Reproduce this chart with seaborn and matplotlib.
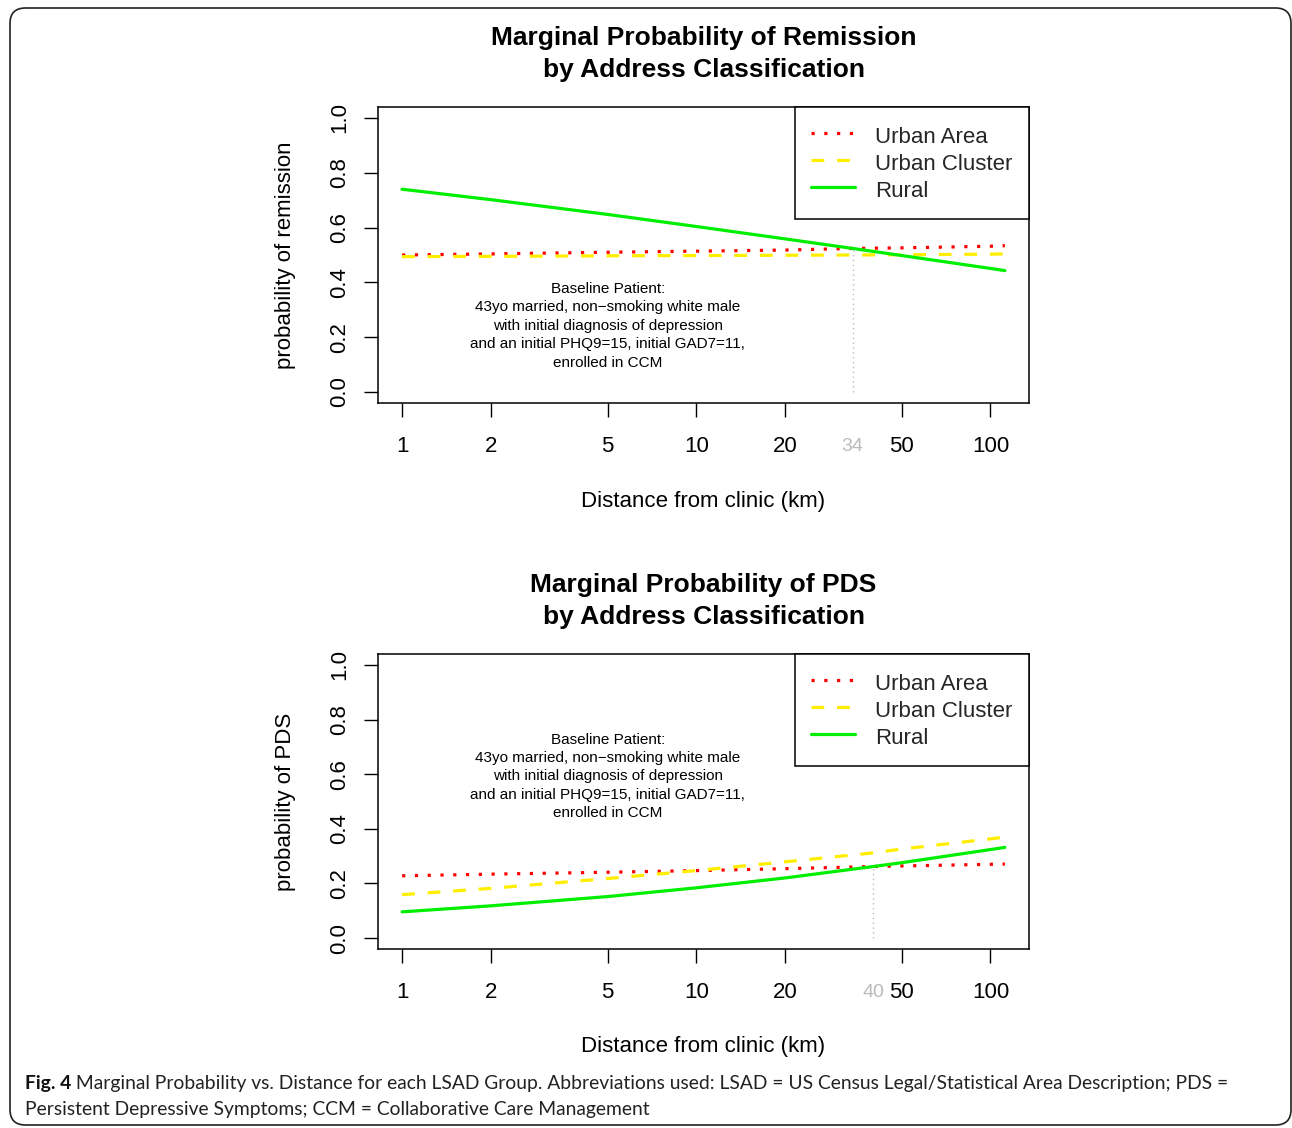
import numpy as np
import pandas as pd
import matplotlib
matplotlib.use("Agg")
import matplotlib.pyplot as plt
import seaborn as sns
from matplotlib import font_manager
from matplotlib.patches import FancyBboxPatch

# ---------------- data ----------------
series_names = ["Urban Area", "Urban Cluster", "Rural"]

dist_rem = [1, 2, 5, 10, 20, 34, 50, 100, 112]
urban_area_rem = [0.500, 0.504, 0.510, 0.514, 0.518, 0.524, 0.526, 0.532, 0.534]
urban_cluster_rem = [0.494, 0.495, 0.497, 0.498, 0.499, 0.500, 0.501, 0.503, 0.504]
rural_rem = [0.740, 0.702, 0.648, 0.604, 0.559, 0.524, 0.498, 0.451, 0.443]
cross_rem_x = 34
cross_rem_y = 0.524

dist_pds = [1, 2, 5, 10, 20, 40, 50, 100, 112]
urban_area_pds = [0.228, 0.234, 0.241, 0.247, 0.254, 0.262, 0.264, 0.270, 0.271]
urban_cluster_pds = [0.159, 0.182, 0.218, 0.247, 0.279, 0.312, 0.326, 0.363, 0.370]
rural_pds = [0.096, 0.118, 0.152, 0.184, 0.220, 0.262, 0.276, 0.324, 0.332]
cross_pds_x = 40
cross_pds_y = 0.262

x_ticks = [1, 2, 5, 10, 20, 50, 100]
x_tick_labels = ["1", "2", "5", "10", "20", "50", "100"]
y_ticks = [0.0, 0.2, 0.4, 0.6, 0.8, 1.0]
y_tick_labels = ["0.0", "0.2", "0.4", "0.6", "0.8", "1.0"]

titles = ["Marginal Probability of Remission\nby Address Classification",
          "Marginal Probability of PDS\nby Address Classification"]
ylabels = ["probability of remission", "probability of PDS"]
xlabel = "Distance from clinic (km)"
note = ("Baseline Patient:\n43yo married, non\u2212smoking white male\n"
        "with initial diagnosis of depression\n"
        "and an initial PHQ9=15, initial GAD7=11,\nenrolled in CCM")
note_pos = [(5, 0.242), (5, 0.592)]
caption_bold = "Fig. 4"
caption_line1 = (" Marginal Probability vs. Distance for each LSAD Group. Abbreviations used: "
                 "LSAD = US Census Legal/Statistical Area Description; PDS =")
caption_line2 = "Persistent Depressive Symptoms; CCM = Collaborative Care Management"

# ---------------- style ----------------
sns.set_theme(style="white")
plt.rcParams["font.family"] = ["Liberation Sans", "DejaVu Sans"]

palette = {"Urban Area": "#FF0000", "Urban Cluster": "#FFEE00", "Rural": "#00EE00"}
dashes = {"Urban Area": (1, 3), "Urban Cluster": (4, 4), "Rural": ""}

W, H = 1292, 1128
fig = plt.figure(figsize=(W / 100, H / 100), dpi=100)

# rounded frame around the figure
frame = FancyBboxPatch((10 / W, 3 / H), (1281 / W), (1117 / H),
                       boxstyle="round,pad=0,rounding_size=0.012",
                       transform=fig.transFigure, facecolor="none",
                       edgecolor="#222222", linewidth=1.2, mutation_aspect=W / H)
fig.patches.append(frame)

ax_rects = [[378 / W, 1 - 403 / H, 651 / W, 296 / H],
            [378 / W, 1 - 949 / H, 651 / W, 295 / H]]

datasets = [
    (dist_rem, urban_area_rem, urban_cluster_rem, rural_rem, cross_rem_x, cross_rem_y),
    (dist_pds, urban_area_pds, urban_cluster_pds, rural_pds, cross_pds_x, cross_pds_y),
]

for i, (dist, ua, uc, ru, cx, cy) in enumerate(datasets):
    ax = fig.add_axes(ax_rects[i])
    df = pd.DataFrame({
        "distance": dist * 3,
        "prob": ua + uc + ru,
        "group": [series_names[0]] * len(dist) + [series_names[1]] * len(dist)
                 + [series_names[2]] * len(dist),
    })
    sns.lineplot(data=df, x="distance", y="prob", hue="group", style="group",
                 palette=palette, dashes=dashes, hue_order=series_names,
                 style_order=series_names, linewidth=2.3, legend=False, ax=ax)
    ax.set_xscale("log")
    lo, hi = np.log10(min(dist)), np.log10(max(dist))
    pad = 0.04 * (hi - lo)
    ax.set_xlim(10 ** (lo - pad), 10 ** (hi + pad))
    ax.set_ylim(-0.04, 1.04)

    # crossing marker
    ax.plot([cx, cx], [0, cy], color="#BBBBBB", linewidth=1.0,
            linestyle=(0, (1, 2.5)))

    ax.set_xticks(x_ticks, labels=x_tick_labels)
    ax.set_xticks([cx], labels=[str(cx)], minor=True)
    ax.set_yticks(y_ticks, labels=y_tick_labels)
    ax.tick_params(axis="x", which="major", direction="out", length=10, width=1,
                   pad=14, labelsize=16, bottom=True, colors="black")
    ax.tick_params(axis="x", which="minor", length=0, pad=25, labelsize=14,
                   labelcolor="#BBBBBB", bottom=True)
    ax.tick_params(axis="y", direction="out", length=10, width=1, pad=10,
                   labelsize=16, left=True, labelrotation=90, colors="black")
    for lab in ax.get_yticklabels():
        lab.set_verticalalignment("center")
    for s in ax.spines.values():
        s.set_color("black")
        s.set_linewidth(1.1)

    ax.set_xlabel(xlabel, fontsize=16, color="black")
    ax.set_ylabel(ylabels[i], fontsize=16, color="black")
    ax.xaxis.set_label_coords(0.5, -0.296)
    ax.yaxis.set_label_coords(-0.126, 0.5)
    ax.set_title(titles[i], fontsize=19, fontweight="bold", pad=21.5, color="black")
    ax.title.set_linespacing(1.45)

    ax.text(note_pos[i][0], note_pos[i][1], note, ha="center", va="center",
            multialignment="center", fontsize=11, linespacing=1.4, color="black")

    handles = ax.lines[:3]
    leg = ax.legend(handles, series_names, loc="upper right", bbox_to_anchor=(1, 1),
                    borderaxespad=0, fontsize=16, frameon=True, fancybox=False,
                    edgecolor="black", framealpha=1, handlelength=1.95,
                    handleheight=1.22, handletextpad=0.9, labelspacing=0.135,
                    borderpad=0.76)
    leg.get_frame().set_linewidth(1.1)

# caption
names = {f.name for f in font_manager.fontManager.ttflist}
cap_family = ["Liberation Sans Narrow"] if "Liberation Sans Narrow" in names else ["Lato"]
cap_size = 15 if cap_family[0] == "Liberation Sans Narrow" else 13.9
renderer = fig.canvas.get_renderer()
y1 = 1 - 1083 / H
y2 = 1 - 1110 / H
tb = fig.text(25 / W, y1, caption_bold, fontsize=cap_size, fontweight="bold",
              family=cap_family, color="#111111", va="center", ha="left")
bb = tb.get_window_extent(renderer=renderer)
fig.text(bb.x1 / W, y1, caption_line1, fontsize=cap_size, family=cap_family,
         color="#222222", va="center", ha="left")
fig.text(25 / W, y2, caption_line2, fontsize=cap_size, family=cap_family,
         color="#222222", va="center", ha="left")

fig.savefig("out.png", dpi=100)
